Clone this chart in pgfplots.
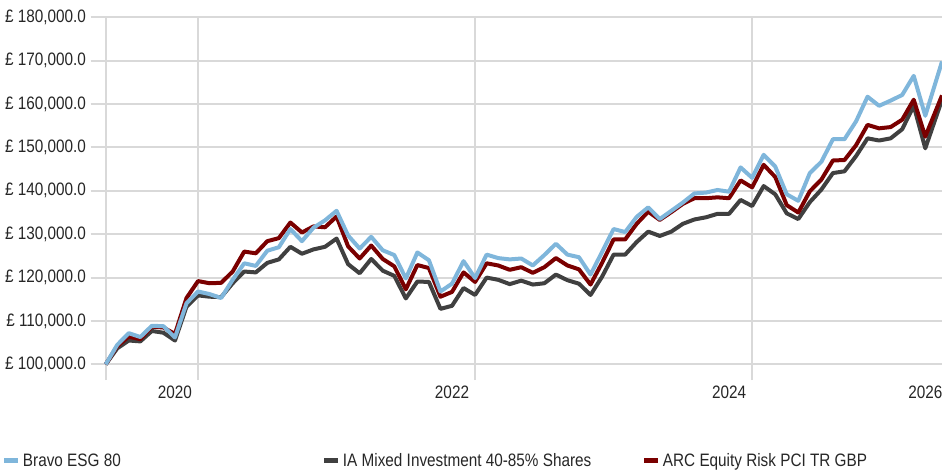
\documentclass[border=0pt]{standalone}
\usepackage{fontspec}
\setmainfont{Liberation Sans}[FakeStretch=0.85]
\usepackage{pgfplots}
\usepackage{pgfplotstable}
\pgfplotsset{compat=1.18}
\definecolor{cblue}{HTML}{7FB6DB}
\definecolor{cdark}{HTML}{404040}
\definecolor{cred}{HTML}{7A0000}
\definecolor{cgrid}{HTML}{D9D9D9}
\definecolor{ctext}{HTML}{262626}
\pgfplotstableread{
x blue red dark
0 100.0 100.0 100.0
1 104.5 104.2 103.7
2 107.2 106.4 105.5
3 106.3 105.8 105.3
4 108.9 108.7 107.7
5 108.8 108.5 107.3
6 106.2 107.0 105.5
7 114.1 115.3 113.3
8 116.8 119.2 115.9
9 116.2 118.7 115.6
10 115.3 118.8 115.5
11 119.5 121.4 118.7
12 123.3 126.0 121.4
13 122.7 125.6 121.2
14 126.2 128.4 123.4
15 127.0 129.1 124.2
16 131.2 132.7 127.1
17 128.4 130.4 125.5
18 131.5 131.8 126.5
19 133.2 131.6 127.1
20 135.4 134.1 129.0
21 129.7 127.2 123.1
22 126.7 124.4 121.0
23 129.4 127.4 124.3
24 126.3 124.3 121.6
25 125.2 122.6 120.4
26 119.8 117.3 115.2
27 125.8 122.9 119.1
28 124.0 122.2 119.0
29 116.8 115.6 112.8
30 118.6 116.7 113.5
31 123.8 121.2 117.6
32 119.9 119.0 116.0
33 125.3 123.3 120.0
34 124.5 122.8 119.5
35 124.2 121.8 118.5
36 124.4 122.4 119.3
37 122.8 121.1 118.4
38 125.2 122.4 118.7
39 127.8 124.5 120.7
40 125.3 122.8 119.4
41 124.7 121.9 118.6
42 120.7 118.4 116.0
43 125.9 123.4 120.2
44 131.2 128.8 125.3
45 130.5 128.8 125.3
46 134.0 132.4 128.2
47 136.2 135.2 130.6
48 133.5 133.3 129.6
49 135.4 135.1 130.6
50 137.3 137.0 132.4
51 139.4 138.3 133.4
52 139.6 138.3 133.9
53 140.2 138.5 134.7
54 139.8 138.3 134.7
55 145.4 142.4 137.9
56 143.0 140.8 136.5
57 148.3 146.0 141.1
58 145.6 143.2 139.2
59 139.2 136.7 134.8
60 137.7 135.0 133.5
61 144.1 139.9 137.4
62 146.7 142.6 140.3
63 151.9 147.0 144.1
64 151.9 147.1 144.5
65 156.0 150.5 148.0
66 161.7 155.2 152.1
67 159.6 154.4 151.6
68 160.8 154.7 152.1
69 162.1 156.4 154.2
70 166.5 161.0 159.6
71 157.3 152.5 149.8
72.45 169.8 162.0 161.0
}\data
\begin{document}
\begin{tikzpicture}
\path[use as bounding box] (0pt,0pt) rectangle (942pt,474pt);
\begin{axis}[
  at={(90.7pt,456.7pt)}, anchor=north west,
  scale only axis, width=851.3pt, height=362.7pt,
  xmin=-1.3, xmax=72.45, ymin=96.4, ymax=180,
  axis line style={draw=none},
  major tick length=0pt,
  ytick={100,110,...,180},
  yticklabels={{£ 100,000.0},{£ 110,000.0},{£ 120,000.0},{£ 130,000.0},{£ 140,000.0},{£ 150,000.0},{£ 160,000.0},{£ 170,000.0},{£ 180,000.0}},
  ymajorgrids, grid style={cgrid, line width=2pt},
  xtick={6,30,54,71},
  xticklabels={2020,2022,2024,2026},
  extra x ticks={0,8,32,56},
  extra x tick labels={},
  extra x tick style={grid=major, major tick length=0pt},
  yticklabel style={anchor=east, inner sep=0pt, xshift=-4.5pt, font=\fontsize{18}{20}\selectfont, text=ctext},
  xticklabel style={anchor=north, inner sep=0pt, yshift=-6pt, font=\fontsize{18}{20}\selectfont, text=ctext},
  legend image code/.code={\draw[#1, line width=5pt, line cap=butt] (0pt,0pt) -- (14pt,0pt);},
  legend columns=3,
  legend cell align=left,
  legend style={at={(-0.1042,-0.2233)}, anchor=west, draw=none, fill=none,
    inner sep=0pt, outer sep=0pt,
    nodes={inner sep=2pt, font=\fontsize{18}{20}\selectfont, text=ctext},
    /tikz/every even column/.append style={column sep=0pt}},
]
\addlegendimage{cblue}
\addlegendentry{\makebox[297pt][l]{Bravo ESG 80}}
\addlegendimage{cdark}
\addlegendentry{\makebox[297pt][l]{IA Mixed Investment 40-85\% Shares}}
\addlegendimage{cred}
\addlegendentry{ARC Equity Risk PCI TR GBP}
\addplot[forget plot, cdark, line width=4pt, line join=round] table[x=x, y=dark] {\data};
\addplot[forget plot, cred, line width=4pt, line join=round] table[x=x, y=red] {\data};
\addplot[forget plot, cblue, line width=4pt, line join=round] table[x=x, y=blue] {\data};
\end{axis}
\end{tikzpicture}
\end{document}
